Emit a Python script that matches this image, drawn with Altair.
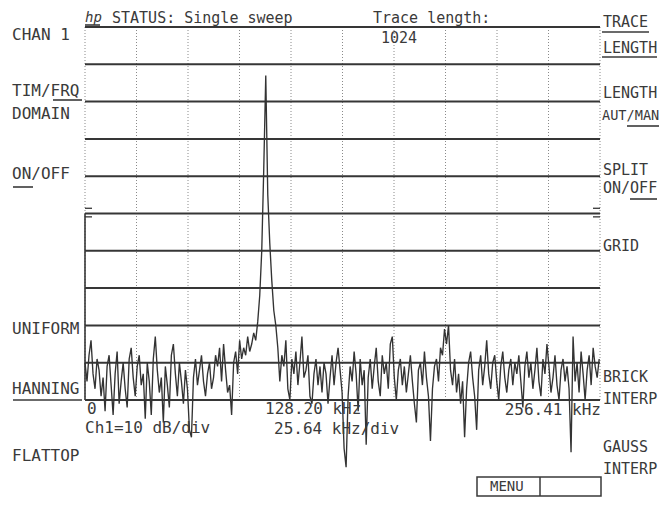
import altair as alt
import pandas as pd

# ---------------- data ----------------
freq_khz = list(range(0, 257))          # 1 kHz per trace point
level_db = [
    -90, -95, -88, -84, -93, -97, -89, -92, -99, -94,
    -103, -91, -88, -96, -104, -93, -87, -101, -95, -90,
    -97, -102, -89, -86, -94, -99, -91, -88, -96, -93,
    -105, -90, -95, -104, -89, -83, -92, -98, -94, -106,
    -91, -96, -102, -88, -85, -93, -99, -90, -95, -101,
    -92, -97, -108, -110, -94, -89, -96, -92, -88, -95,
    -99, -93, -90, -97, -94, -88, -91, -86, -95, -85,
    -92, -98, -96, -104, -90, -87, -93, -84, -89, -86,
    -88, -83, -87, -85, -82,
    -84, -79, -72, -60, -38, -13, -45, -58, -68, -76, -80, -86,
    -95, -88, -91, -84, -97, -100, -89, -93, -87, -96,
    -90, -83, -94, -92, -88, -99, -101, -93, -89, -96,
    -91, -98, -90,
    -93, -101, -94, -88, -96, -90, -86, -92, -98, -113,
    -118, -99, -91, -95, -87, -93, -103, -89, -96, -92,
    -112, -94, -89, -97, -91, -86, -95, -99, -88, -93,
    -90, -97, -85, -83, -94, -100, -92, -89, -96, -91,
    -98, -93, -88, -95, -101, -106, -92, -90, -96, -87,
    -94, -99, -111, -97, -91, -89, -95, -86, -88, -81,
    -85, -80, -92, -96, -89, -98, -93, -101, -95, -110,
    -97, -90, -87, -94, -99, -108, -92, -88, -96, -91,
    -84, -93, -97, -90, -88, -95, -100, -91, -87, -94,
    -98, -92, -89, -96, -90, -93, -88, -95, -102, -91,
    -87, -94, -90, -97, -92, -86, -95, -99, -89, -93,
    -85, -91, -98, -94, -88, -96, -100, -92, -89, -95,
    -91, -97, -114, -83, -95, -90, -98, -87, -93, -100,
    -92, -88, -96, -86, -91, -94, -89,
]
grid_db = [0, -10, -20, -30, -40, -50, -60, -70, -80, -90, -100]
span_khz = 256.41
div_khz = [round(i * span_khz / 10, 3) for i in range(11)]
ref_level_db = -50

# ---------------- layout ----------------
W, H = 515, 373
PL, PT = 77, 19
TOTAL_W, TOTAL_H = 652, 490
OX, OY = 8 + PL, 8 + PT   # page position of plot origin

INK = "#363636"
TXT = "#3a3a3a"
FONT = "DejaVu Sans Mono"

xs = alt.Scale(domain=[0, span_khz], nice=False, zero=False)
ys = alt.Scale(domain=[-100, 0], nice=False, zero=False)

one = pd.DataFrame({"a": [0]})


def label(text, px, py, size=16, align="left", italic=False):
    return alt.Chart(pd.DataFrame({"t": [text]})).mark_text(
        align=align, baseline="middle", font=FONT, fontSize=size, color=TXT,
        fontStyle="italic" if italic else "normal",
    ).encode(x=alt.value(px - OX), y=alt.value(py - OY), text="t:N")


def uline(px1, px2, py):
    return alt.Chart(one).mark_rule(color=TXT, strokeWidth=1.6).encode(
        x=alt.value(px1 - OX), x2=alt.value(px2 - OX), y=alt.value(py - OY))


hgrid = alt.Chart(pd.DataFrame({"lvl": grid_db})).mark_rule(
    color=INK, strokeWidth=2).encode(y=alt.Y("lvl:Q", scale=ys, axis=None))

vgrid = alt.Chart(pd.DataFrame({"f": div_khz})).mark_rule(
    color="#8a8a8a", strokeWidth=1, strokeDash=[1, 2]).encode(
    x=alt.X("f:Q", scale=xs, axis=None))

left_edge = alt.Chart(pd.DataFrame({"f": [0], "lvl": [ref_level_db], "lo": [-100]})).mark_rule(
    color=INK, strokeWidth=1.6).encode(
    x=alt.X("f:Q", scale=xs, axis=None), y=alt.Y("lvl:Q", scale=ys, axis=None), y2="lo:Q")

marks = []
for d in (1.4, -0.9):
    for x0, x1 in ((0, 7), (W - 7, W)):
        marks.append(alt.Chart(one).mark_rule(color=INK, strokeWidth=1.3).encode(
            x=alt.value(x0), x2=alt.value(x1),
            y=alt.Y(datum=ref_level_db + d, scale=ys, axis=None)))

trace = alt.Chart(pd.DataFrame({"f": freq_khz, "lvl": level_db})).mark_line(
    color="#333333", strokeWidth=1.35).encode(
    x=alt.X("f:Q", scale=xs, axis=None), y=alt.Y("lvl:Q", scale=ys, axis=None))

RS = 15  # right soft-key font size
texts = [
    label("hp", 85, 18, size=14, italic=True), uline(85, 100, 25),
    label("STATUS: Single sweep", 112, 18, size=15),
    label("Trace length:", 373, 18, size=15),
    label("1024", 381, 38, size=15),
    # left soft keys
    label("CHAN 1", 12, 35),
    label("TIM/FRQ", 12, 91), uline(53, 82, 100),
    label("DOMAIN", 12, 114),
    label("ON/OFF", 12, 174), uline(13, 33, 187),
    label("UNIFORM", 12, 329),
    label("HANNING", 12, 389), uline(13, 82, 400),
    label("FLATTOP", 12, 456),
    # right soft keys
    label("TRACE", 603, 22, size=RS), uline(602, 649, 32),
    label("LENGTH", 603, 48, size=RS), uline(602, 657, 57),
    label("LENGTH", 603, 93, size=RS),
    label("AUT/MAN", 602, 116, size=13.6), uline(627, 659, 126),
    label("SPLIT", 603, 170, size=RS),
    label("ON/OFF", 603, 188, size=RS), uline(630, 657, 199),
    label("GRID", 603, 246, size=RS),
    label("BRICK", 603, 377, size=RS),
    label("INTERP", 603, 399, size=RS),
    label("GAUSS", 603, 447, size=RS),
    label("INTERP", 603, 469, size=RS),
    # bottom annotations
    label("0", 87, 409),
    label("128.20 kHz", 265, 409),
    label("256.41 kHz", 601, 410, align="right"),
    label("Ch1=10 dB/div", 85, 428),
    label("25.64 kHz/div", 274, 429),
    label("MENU", 490, 487, size=14),
]

menu_box = alt.Chart(one).mark_rect(filled=False, stroke=TXT, strokeWidth=1.5).encode(
    x=alt.value(477 - OX), x2=alt.value(601 - OX), y=alt.value(477 - OY), y2=alt.value(496 - OY))
menu_div = alt.Chart(one).mark_rule(color=TXT, strokeWidth=1.5).encode(
    x=alt.value(540 - OX), y=alt.value(477 - OY), y2=alt.value(496 - OY))

chart = alt.layer(vgrid, hgrid, left_edge, *marks, trace, *texts, menu_box, menu_div).properties(
    width=W, height=H,
    autosize=alt.AutoSizeParams(type="none"),
    padding={"left": PL, "top": PT, "right": TOTAL_W - PL - W, "bottom": TOTAL_H - PT - H},
    background="white",
).configure_view(stroke=None)

chart.save("out.html", embed_options={"renderer": "svg", "actions": False})
